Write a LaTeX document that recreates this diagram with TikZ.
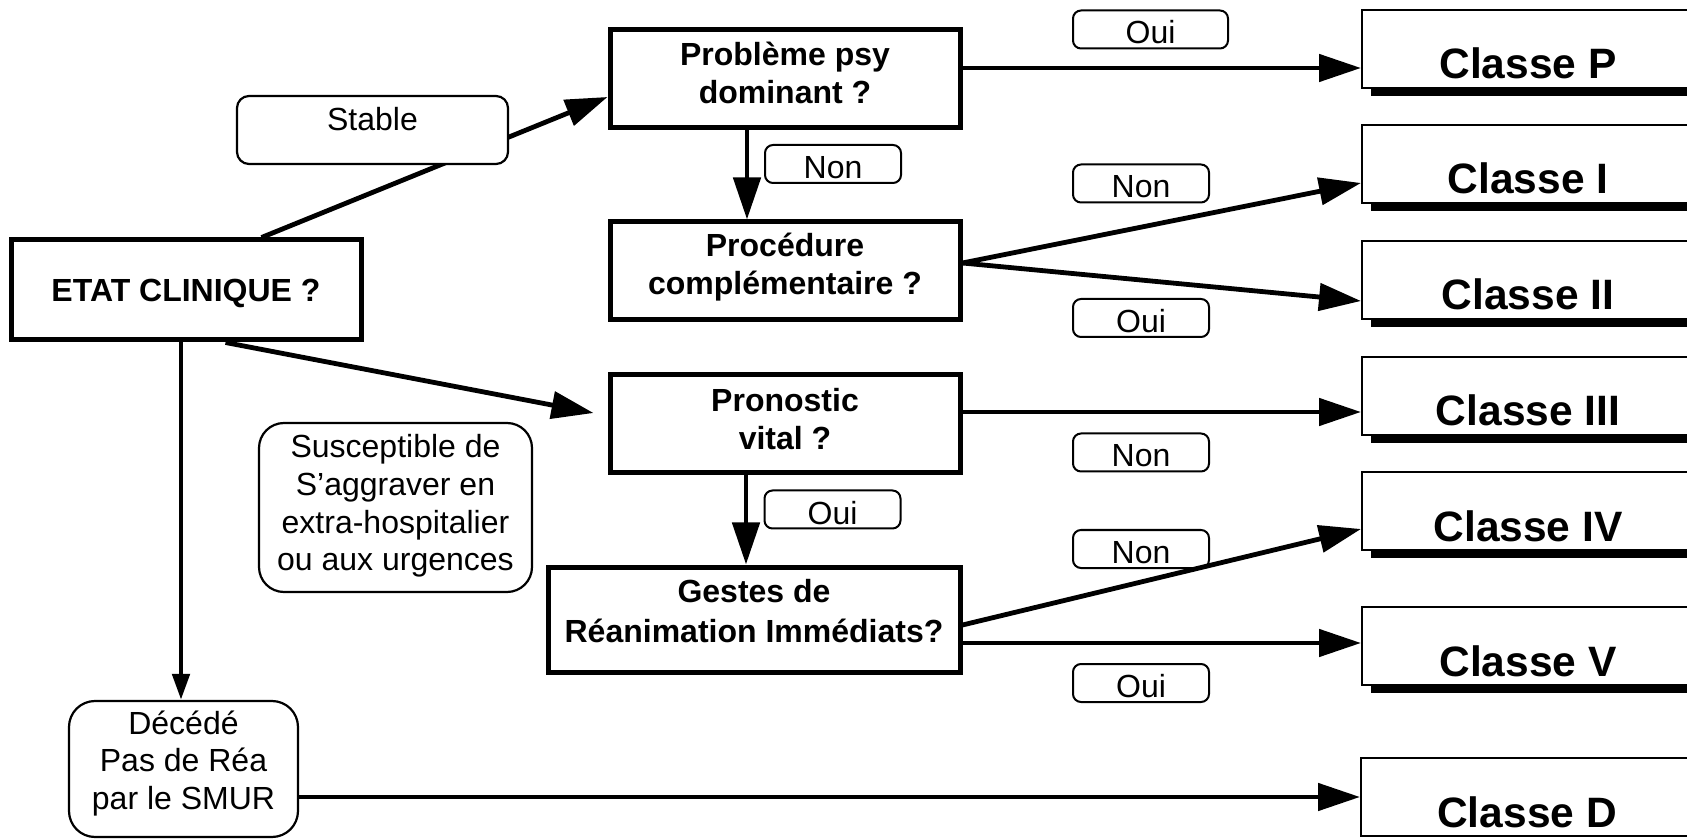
\documentclass[tikz,border=0pt]{standalone}
\usepackage{fontspec}
\setmainfont{Liberation Sans}
\usetikzlibrary{arrows.meta,calc}
\tikzset{
  dbox/.style={draw, line width=2.5pt, fill=white, minimum width=175pt, minimum height=49pt, inner sep=0pt},
  rbox/.style={draw, line width=1.1pt, fill=white, inner sep=0pt},
  lbl/.style={draw, line width=1pt, rounded corners=4pt, fill=white, minimum width=68pt, minimum height=19pt, inner sep=0pt, text height=14.5pt, text depth=0pt, font=\fontsize{16}{18.75}\selectfont},
  cls/.style={draw, line width=1pt, fill=white, minimum width=166pt, minimum height=39pt, inner sep=0pt, text height=30pt, text depth=0pt, font=\fontsize{21.25}{25}\selectfont\bfseries},
  bt/.style={anchor=base, inner sep=0pt, font=\fontsize{16}{18.75}\selectfont\bfseries},
  rt/.style={anchor=base, inner sep=0pt, font=\fontsize{16}{18.75}\selectfont},
  arr/.style={line width=2.4pt, -{Triangle[length=21pt,width=13.5pt]}},
  arrsm/.style={line width=2.4pt, -{Triangle[length=13pt,width=8.5pt]}},
  shd/.style={fill=black}
}
\begin{document}
\begin{tikzpicture}[x=0.5pt,y=-0.5pt]
\useasboundingbox (0,0) rectangle (1687,839);
\clip (0,0) rectangle (1687,839);

% decision boxes
\node[dbox] (prob) at (785,79) {};
\node[dbox] (proc) at (785,271) {};
\node[dbox] (pron) at (785,424) {};
\node[dbox, minimum width=206pt, minimum height=52.5pt] (gest) at (754,619.5) {};
\node[dbox, minimum height=50pt, text height=11.5pt, text depth=0pt, font=\fontsize{16}{18.75}\selectfont\bfseries] (etat) at (186,290) {ETAT CLINIQUE ?};

\node[bt] (tprob1) at (785,66) {Problème psy};
\node[bt] (tprob2) at (785,104) {dominant ?};
\node[bt] (tproc1) at (785,257) {Procédure};
\node[bt] (tproc2) at (785,295) {complémentaire ?};
\node[bt] (tpron1) at (785,412) {Pronostic};
\node[bt] (tpron2) at (785,450) {vital ?};
\node[bt] (tgest1) at (754,602) {Gestes de};
\node[bt] (tgest2) at (754,642) {Réanimation Immédiats?};

% rounded boxes
\node[rbox, rounded corners=12.5pt, minimum width=136.5pt, minimum height=84.5pt] (susc) at (395.5,507.5) {};
\node[rt] (tsusc1) at (395.5,458) {Susceptible de};
\node[rt] (tsusc2) at (395.5,495.5) {S’aggraver en};
\node[rt] (tsusc3) at (395.5,533) {extra-hospitalier};
\node[rt] (tsusc4) at (395.5,570.5) {ou aux urgences};

\node[rbox, rounded corners=13pt, minimum width=114.5pt, minimum height=68pt] (deced) at (183.5,769) {};
\node[rt] (tdec1) at (183.5,734) {Décédé};
\node[rt] (tdec2) at (183.5,771.5) {Pas de Réa};
\node[rt] (tdec3) at (183.5,809) {par le SMUR};

% class boxes
\foreach \n/\yy in {cP/49, cI/164, cII/280, cIII/396, cIV/511, cV/646}{
  \fill[shd] (1371,\yy+39) rectangle (1700,\yy+47);
}
\node[cls] (cP) at (1528,49) {Classe P};
\node[cls] (cI) at (1528,164) {Classe I};
\node[cls] (cII) at (1528,280) {Classe II};
\node[cls] (cIII) at (1528,396) {Classe III};
\node[cls] (cIV) at (1528,511) {Classe IV};
\node[cls] (cV) at (1528,646) {Classe V};
\node[cls] (cD) at (1527,797) {Classe D};

\coordinate (cPin) at ($(cP.west)+(0,19)$);
\coordinate (cIin) at ($(cI.west)+(0,19)$);
\coordinate (cIIin) at ($(cII.west)+(0,21)$);
\coordinate (cIIIin) at ($(cIII.west)+(0,16)$);
\coordinate (cIVin) at ($(cIV.west)+(0,18)$);
\coordinate (cVin) at ($(cV.west)+(0,-3)$);
\coordinate (cDin) at (cD.west);

% labels
\node[lbl, minimum width=77.5pt] (l1) at (1150.5,29.5) {Oui};
\node[lbl] (l2) at (833,164) {Non};
\node[lbl] (l3) at (1141,183.5) {Non};
\node[lbl] (l4) at (1141,318) {Oui};
\node[lbl] (l5) at (1141,452.5) {Non};
\node[lbl] (l6) at (832.5,509.5) {Oui};
\node[lbl] (l7) at (1141,549) {Non};
\node[lbl] (l8) at (1141,683) {Oui};

% connectors
\draw[arr] ($(etat.north west)+(253,0)$) -- ($(prob.west)+(0,18)$);
\draw[arr] ($(etat.south west)+(217,0)$) -- ($(pron.west)+(-14,-11)$);
\draw[arrsm] ($(etat.south)+(-5,0)$) coordinate (e1) -- (e1 |- deced.north);
\draw[arr] ($(prob.south)+(-38,0)$) coordinate (p1) -- (p1 |- proc.north);
\draw[arr] (prob.east |- cPin) -- (cPin);
\draw[arr] ($(proc.east)+(0,-8)$) -- (cIin);
\draw[arr] ($(proc.east)+(0,-8)$) -- (cIIin);
\draw[arr] (pron.east |- cIIIin) -- (cIIIin);
\draw[arr] ($(pron.south)+(-39,0)$) coordinate (p2) -- (p2 |- gest.north);
\draw[arr] ($(gest.east)+(0,5.5)$) -- (cIVin);
\draw[arr] (gest.east |- cVin) -- (cVin);
\draw[arr] (deced.east |- cDin) -- (cDin);

% Stable label on top of its connector
\node[rbox, rounded corners=6pt, minimum width=135.5pt, minimum height=34pt, text height=1pt, text depth=0pt, font=\fontsize{16}{18.75}\selectfont] (stable) at (372.5,130) {Stable};
\end{tikzpicture}
\end{document}
